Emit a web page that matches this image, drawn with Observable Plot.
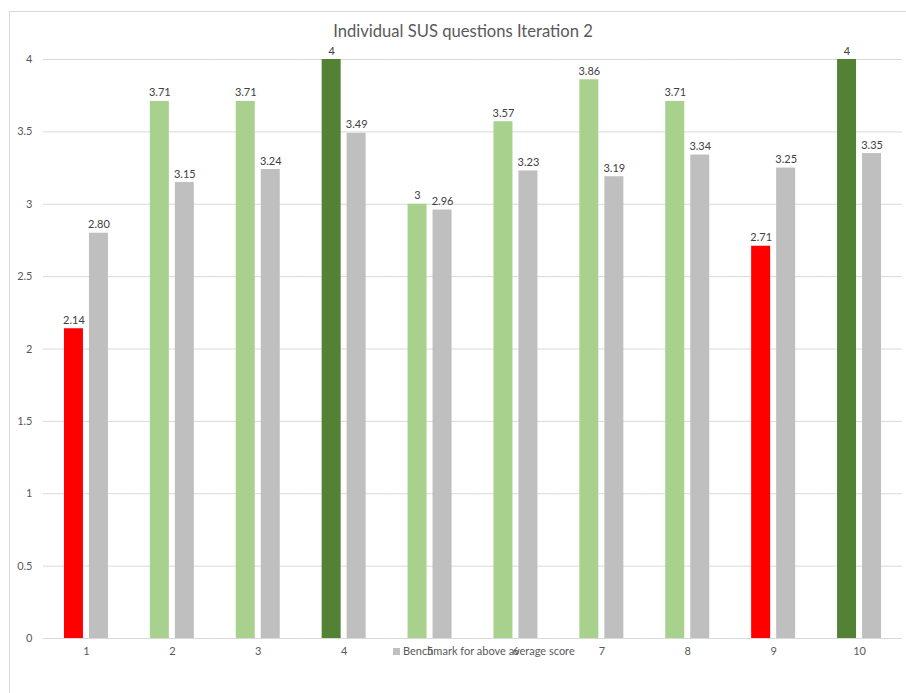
<!DOCTYPE html>
<html><head><meta charset="utf-8">
<script src="https://cdn.jsdelivr.net/npm/d3@7"></script>
<script src="https://cdn.jsdelivr.net/npm/@observablehq/plot@0.6"></script>
<style>
body{margin:0;background:#fff;overflow:hidden;width:906px;height:693px;font-family:Lato,"Open Sans",sans-serif;}
#frame{position:absolute;left:9px;top:11px;width:920px;height:700px;border:1px solid #d9d9d9;}
#title{position:absolute;left:0;top:21px;width:926px;text-align:center;font-size:16.6px;color:#595959;}
#chart{position:absolute;left:0;top:45px;}
#legend{position:absolute;left:393px;top:644px;font-size:11px;color:#595959;white-space:nowrap;}
#legend span.sw{display:inline-block;width:7px;height:7px;background:#bfbfbf;margin-right:3px;vertical-align:0px;}
</style></head><body>
<div id="frame"></div>
<div id="title">Individual SUS questions Iteration 2</div>
<div id="chart"></div>
<div id="legend"><span class="sw"></span>Benchmark for above average score</div>
<script>
const questions = ["1","2","3","4","5","6","7","8","9","10"];
const scores = [2.14, 3.71, 3.71, 4, 3, 3.57, 3.86, 3.71, 2.71, 4];
const scoreLabels = ["2.14","3.71","3.71","4","3","3.57","3.86","3.71","2.71","4"];
const scoreLevel = ["below","above","above","max","above","above","above","above","below","max"];
const benchmark = [2.80, 3.15, 3.24, 3.49, 2.96, 3.23, 3.19, 3.34, 3.25, 3.35];
const benchmarkLabels = ["2.80","3.15","3.24","3.49","2.96","3.23","3.19","3.34","3.25","3.35"];
const yTicks = [0, 0.5, 1, 1.5, 2, 2.5, 3, 3.5, 4];
const yTickLabels = ["0","0.5","1","1.5","2","2.5","3","3.5","4"];

const rows = [];
questions.forEach((q, i) => {
  rows.push({q, series: "score", value: scores[i], label: scoreLabels[i], level: scoreLevel[i]});
  rows.push({q, series: "bench", value: benchmark[i], label: benchmarkLabels[i], level: "bench"});
});

const chart = Plot.plot({
  width: 906,
  height: 623,
  marginTop: 14,
  marginBottom: 30,
  marginLeft: 43,
  marginRight: 4,
  style: {fontFamily: "Lato, 'Open Sans', sans-serif", background: "transparent"},
  fx: {domain: questions, range: [43, 902], paddingInner: 0, paddingOuter: 0, round: false, label: null},
  x: {domain: ["score", "bench"], paddingInner: 0.24, paddingOuter: 0.838, round: false, axis: null},
  y: {domain: [0, 4], label: null},
  color: {domain: ["below", "above", "max", "bench"], range: ["#ff0000", "#a9d18e", "#548235", "#bfbfbf"]},
  marks: [
    Plot.gridY(yTicks, {stroke: "#d9d9d9", strokeOpacity: 1}),
    Plot.barY(rows, {fx: "q", x: "series", y: "value", fill: "level"}),
    Plot.text(rows, {fx: "q", x: "series", y: "value", text: "label", dy: -5, lineAnchor: "bottom", fontSize: 11, fill: "#404040"}),
    Plot.axisY(yTicks, {tickSize: 0, tickPadding: 11, fontSize: 11, color: "#595959", label: null, tickFormat: (d) => yTickLabels[yTicks.indexOf(d)]}),
    Plot.axisFx({anchor: "bottom", tickSize: 0, tickPadding: 9, fontSize: 11, color: "#595959", label: null})
  ]
});
document.getElementById("chart").appendChild(chart);
</script>
</body></html>
